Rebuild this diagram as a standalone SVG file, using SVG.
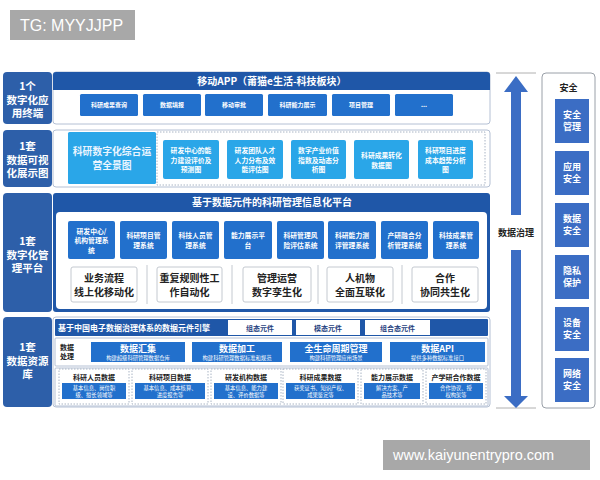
<svg xmlns="http://www.w3.org/2000/svg" width="600" height="480" viewBox="0 0 600 480">
<style>
text{font-family:"Noto Sans CJK SC","Liberation Sans",sans-serif;text-anchor:middle}
.lab{fill:#2d5fa9}
.lt{fill:#fff;font-size:10.5px;font-weight:bold}
.panel{fill:#fff;stroke:#b4c0d4;stroke-width:1}
.bar{fill:#1f57a8}
.bt{fill:#fff;font-size:10px;font-weight:bold}
.btn{fill:#2270cc}
.t6{fill:#fff;font-size:6px;font-weight:bold}
.lb{fill:#2aa6e8}
.t7{fill:#fff;font-size:6.8px;font-weight:bold}
.wb{fill:#fff;stroke:#c4c9d0;stroke-width:1}
.dk{fill:#222;font-size:10px;font-weight:bold}
.dot{fill:#fff;stroke:#a9b4c4;stroke-width:1;stroke-dasharray:1.5 1.5}
.sec{fill:#3b6dc4}
.st{fill:#fff;font-size:9px;font-weight:bold}
.s5{fill:#fff;font-size:5.3px}
.d7{fill:#222;font-size:7px;font-weight:bold}
.wm{fill:#a8a8a8}
.wt{fill:#fff;font-family:"Liberation Sans",Arial,sans-serif;text-anchor:start}
</style>

<g id="label-1">
<rect class="lab" x="3" y="72" width="49" height="52" rx="4"/>
<text class="lt" x="27.5" y="90">1个</text>
<text class="lt" x="27.5" y="103.5">数字化应</text>
<text class="lt" x="27.5" y="117">用终端</text>
</g>
<g id="label-2">
<rect class="lab" x="3" y="130" width="49" height="57" rx="4"/>
<text class="lt" x="27.5" y="150">1套</text>
<text class="lt" x="27.5" y="163.5">数据可视</text>
<text class="lt" x="27.5" y="177">化展示图</text>
</g>
<g id="label-3">
<rect class="lab" x="3" y="193" width="49" height="119" rx="4"/>
<text class="lt" x="27.5" y="245">1套</text>
<text class="lt" x="27.5" y="258.5">数字化管</text>
<text class="lt" x="27.5" y="272">理平台</text>
</g>
<g id="label-4">
<rect class="lab" x="3" y="317" width="49" height="90" rx="4"/>
<text class="lt" x="27.5" y="351">1套</text>
<text class="lt" x="27.5" y="364.5">数据资源</text>
<text class="lt" x="27.5" y="378">库</text>
</g>

<g id="row-app">
<rect class="panel" x="53" y="72" width="437" height="52" rx="3"/>
<path class="bar" d="M56,72 H487 a3,3 0 0 1 3,3 V90 H53 V75 a3,3 0 0 1 3,-3 Z"/>
<text class="bt" x="272" y="85">移动APP（莆猫e生活-科技板块）</text>
<g id="app-buttons">
<rect class="btn" x="80" y="94" width="58" height="22" rx="1.5"/><text class="t6" x="109" y="107">科研成果查询</text>
<rect class="btn" x="143" y="94" width="58" height="22" rx="1.5"/><text class="t6" x="172" y="107">数据填报</text>
<rect class="btn" x="205" y="94" width="58" height="22" rx="1.5"/><text class="t6" x="234" y="107">移动审批</text>
<rect class="btn" x="268" y="94" width="59" height="22" rx="1.5"/><text class="t6" x="297.5" y="107">科研能力展示</text>
<rect class="btn" x="332" y="94" width="58" height="22" rx="1.5"/><text class="t6" x="361" y="107">项目管理</text>
<rect class="btn" x="395" y="94" width="58" height="22" rx="1.5"/><text class="t6" x="424" y="107">...</text>
</g>
</g>

<g id="row-visual">
<rect class="panel" x="53" y="130" width="437" height="57" rx="3"/>
<rect class="dot" x="157" y="132" width="328" height="53"/>
<rect class="lb" x="68" y="132" width="88" height="52" rx="1.5"/>
<text fill="#eaf5ff" font-size="9.8" font-weight="bold" x="112" y="155">科研数字化综合运</text>
<text fill="#eaf5ff" font-size="9.8" font-weight="bold" x="112" y="169">营全景图</text>
<rect class="lb" x="163" y="140" width="56" height="39" rx="2"/>
<text class="t7" x="191" y="153">研发中心的能</text><text class="t7" x="191" y="162.5">力建设评价及</text><text class="t7" x="191" y="172">预测图</text>
<rect class="lb" x="227" y="140" width="56" height="39" rx="2"/>
<text class="t7" x="255" y="153">研发团队人才</text><text class="t7" x="255" y="162.5">人力分布及效</text><text class="t7" x="255" y="172">能评估图</text>
<rect class="lb" x="291" y="140" width="55" height="39" rx="2"/>
<text class="t7" x="318.5" y="153">数字产业价值</text><text class="t7" x="318.5" y="162.5">指数及动态分</text><text class="t7" x="318.5" y="172">析图</text>
<rect class="lb" x="354" y="140" width="55" height="39" rx="2"/>
<text class="t7" x="381.5" y="158">科研成果转化</text><text class="t7" x="381.5" y="167.5">数据图</text>
<rect class="lb" x="418" y="140" width="55" height="39" rx="2"/>
<text class="t7" x="445.5" y="153">科研项目进度</text><text class="t7" x="445.5" y="162.5">成本趋势分析</text><text class="t7" x="445.5" y="172">图</text>
</g>

<g id="row-platform">
<rect class="bar" x="53" y="193" width="437" height="119" rx="3"/>
<rect fill="#fff" x="56" y="212" width="431" height="97" rx="4"/>
<text class="bt" x="272" y="206">基于数据元件的科研管理信息化平台</text>
<g id="systems">
<rect class="btn" x="68" y="221" width="47" height="38" rx="2"/>
<text class="t7" x="91.5" y="233.5">研发中心/</text><text class="t7" x="91.5" y="243">机构管理系</text><text class="t7" x="91.5" y="252.5">统</text>
<rect class="btn" x="120" y="221" width="47" height="38" rx="2"/>
<text class="t7" x="143.5" y="238">科研项目管</text><text class="t7" x="143.5" y="247.5">理系统</text>
<rect class="btn" x="172" y="221" width="47" height="38" rx="2"/>
<text class="t7" x="195.5" y="238">科技人员管</text><text class="t7" x="195.5" y="247.5">理系统</text>
<rect class="btn" x="224" y="221" width="48" height="38" rx="2"/>
<text class="t7" x="248" y="238">能力展示平</text><text class="t7" x="248" y="247.5">台</text>
<rect class="btn" x="277" y="221" width="47" height="38" rx="2"/>
<text class="t7" x="300.5" y="238">科研管理风</text><text class="t7" x="300.5" y="247.5">险评估系统</text>
<rect class="btn" x="328" y="221" width="48" height="38" rx="2"/>
<text class="t7" x="352" y="238">科研能力测</text><text class="t7" x="352" y="247.5">评管理系统</text>
<rect class="btn" x="381" y="221" width="47" height="38" rx="2"/>
<text class="t7" x="404.5" y="238">产研融合分</text><text class="t7" x="404.5" y="247.5">析管理系统</text>
<rect class="btn" x="433" y="221" width="46" height="38" rx="2"/>
<text class="t7" x="456" y="238">科技成果管</text><text class="t7" x="456" y="247.5">理系统</text>
</g>
<g id="goals">
<rect class="wb" x="71" y="267" width="66" height="35" rx="2"/>
<text class="dk" x="104" y="282">业务流程</text><text class="dk" x="104" y="295.5">线上化移动化</text>
<line x1="147" y1="265" x2="147" y2="304" stroke="#c4c9d0"/>
<rect class="wb" x="157" y="267" width="65" height="35" rx="2"/>
<text class="dk" x="189.5" y="282">重复规则性工</text><text class="dk" x="189.5" y="295.5">作自动化</text>
<line x1="232" y1="265" x2="232" y2="304" stroke="#c4c9d0"/>
<rect class="wb" x="243" y="267" width="68" height="35" rx="2"/>
<text class="dk" x="277" y="282">管理运营</text><text class="dk" x="277" y="295.5">数字孪生化</text>
<line x1="318" y1="265" x2="318" y2="304" stroke="#c4c9d0"/>
<rect class="wb" x="327" y="267" width="66" height="35" rx="2"/>
<text class="dk" x="360" y="282">人机物</text><text class="dk" x="360" y="295.5">全面互联化</text>
<line x1="402" y1="265" x2="402" y2="304" stroke="#c4c9d0"/>
<rect class="wb" x="412" y="267" width="66" height="35" rx="2"/>
<text class="dk" x="445" y="282">合作</text><text class="dk" x="445" y="295.5">协同共生化</text>
</g>
</g>

<g id="row-data">
<rect class="panel" x="53" y="317" width="437" height="90" rx="3"/>
<rect class="bar" x="55" y="319" width="433" height="17" rx="1"/>
<text fill="#fff" font-size="8" font-weight="bold" x="58" y="330.5" style="text-anchor:start">基于中国电子数据治理体系的数据元件引擎</text>
<rect fill="#fff" x="228" y="320" width="64" height="15"/><text fill="#1f3f80" font-size="7" font-weight="bold" x="260" y="330.5">组态元件</text>
<rect fill="#fff" x="296" y="320" width="64" height="15"/><text fill="#1f3f80" font-size="7" font-weight="bold" x="328" y="330.5">模态元件</text>
<rect fill="#fff" x="365" y="320" width="65" height="15"/><text fill="#1f3f80" font-size="7" font-weight="bold" x="397.5" y="330.5">组合态元件</text>
<g id="processing">
<rect class="panel" x="55" y="338" width="433" height="28" rx="1"/>
<text class="d7" x="67" y="349.5">数据</text>
<text class="d7" x="67" y="359">处理</text>
<rect class="btn" x="91" y="342" width="94" height="20"/>
<text class="st" x="138" y="351.5">数据汇集</text><text class="s5" x="138" y="359.5">构建超级科研管理数据仓库</text>
<rect class="btn" x="192" y="342" width="90" height="20"/>
<text class="st" x="237" y="351.5">数据加工</text><text class="s5" x="237" y="359.5">构建科研管理数据标准和规范</text>
<rect class="btn" x="290" y="342" width="92" height="20"/>
<text class="st" x="336" y="351.5">全生命周期管理</text><text class="s5" x="336" y="359.5">构建科研管理应用场景</text>
<rect class="btn" x="390" y="342" width="95" height="20"/>
<text class="st" x="437.5" y="351.5">数据API</text><text class="s5" x="437.5" y="359.5">提供多种数据标准接口</text>
</g>
<g id="datasets">
<rect class="panel" x="55" y="368" width="433" height="38" rx="1"/>
<rect class="dot" x="59" y="369" width="70" height="35"/>
<text class="d7" x="94" y="380">科研人员数据</text>
<rect class="btn" x="62" y="383" width="64" height="16"/>
<text class="s5" x="94" y="390">基本信息、岗位职</text><text class="s5" x="94" y="397">级、擅长领域等</text>
<rect class="dot" x="132" y="369" width="76" height="35"/>
<text class="d7" x="170" y="380">科研项目数据</text>
<rect class="btn" x="135" y="383" width="70" height="16"/>
<text class="s5" x="170" y="390">基本信息、成本核算、</text><text class="s5" x="170" y="397">进度报告等</text>
<rect class="dot" x="211" y="369" width="70" height="35"/>
<text class="d7" x="246" y="380">研发机构数据</text>
<rect class="btn" x="214" y="383" width="64" height="16"/>
<text class="s5" x="246" y="390">基本信息、能力建</text><text class="s5" x="246" y="397">设、评价数据等</text>
<rect class="dot" x="283" y="369" width="75" height="35"/>
<text class="d7" x="320.5" y="380">科研成果数据</text>
<rect class="btn" x="286" y="383" width="69" height="16"/>
<text class="s5" x="320.5" y="390">获奖证书、知识产权、</text><text class="s5" x="320.5" y="397">成果鉴定等</text>
<rect class="dot" x="361" y="369" width="62" height="35"/>
<text class="d7" x="392" y="380">能力展示数据</text>
<rect class="btn" x="364" y="383" width="56" height="16"/>
<text class="s5" x="392" y="390">解决方案、产</text><text class="s5" x="392" y="397">品技术等</text>
<rect class="dot" x="426" y="369" width="60" height="35"/>
<text class="d7" x="456" y="380">产学研合作数据</text>
<rect class="btn" x="429" y="383" width="54" height="16"/>
<text class="s5" x="456" y="390">合作协议、授</text><text class="s5" x="456" y="397">权构架等</text>
</g>
</g>

<g id="connectors">
<line x1="496" y1="73" x2="536" y2="73" stroke="#b0b0b0"/>
<line x1="496" y1="408" x2="536" y2="408" stroke="#b0b0b0"/>
<polygon fill="#3b6dc4" points="516,76 528,92 521,92 521,215 511,215 511,92 504,92"/>
<polygon fill="#3b6dc4" points="511,250 521,250 521,396 528,396 516,408 504,396 511,396"/>
</g>
<g id="governance">
<text fill="#222" font-size="9" font-weight="bold" x="516" y="236">数据治理</text>
</g>

<g id="security">
<rect fill="#fff" stroke="#9aa0a8" x="542" y="73" width="53" height="335" rx="4"/>
<text fill="#222" font-size="9" font-weight="bold" x="568.5" y="91">安全</text>
<rect class="sec" x="555" y="99" width="34" height="44"/><text class="st" x="572" y="118">安全</text><text class="st" x="572" y="130">管理</text>
<rect class="sec" x="555" y="151" width="34" height="44"/><text class="st" x="572" y="170">应用</text><text class="st" x="572" y="182">安全</text>
<rect class="sec" x="555" y="203" width="34" height="44"/><text class="st" x="572" y="222">数据</text><text class="st" x="572" y="234">安全</text>
<rect class="sec" x="555" y="255" width="34" height="44"/><text class="st" x="572" y="274">隐私</text><text class="st" x="572" y="286">保护</text>
<rect class="sec" x="555" y="307" width="34" height="44"/><text class="st" x="572" y="326">设备</text><text class="st" x="572" y="338">安全</text>
<rect class="sec" x="555" y="358" width="34" height="44"/><text class="st" x="572" y="377">网络</text><text class="st" x="572" y="389">安全</text>
</g>

<g id="watermarks">
<rect class="wm" x="10" y="10" width="125" height="30"/>
<text class="wt" x="20" y="31" font-size="16">TG: MYYJJPP</text>
<rect class="wm" x="383" y="440" width="207" height="30"/>
<text class="wt" x="393" y="460" font-size="14.5">www.kaiyunentrypro.com</text>
</g>
</svg>
